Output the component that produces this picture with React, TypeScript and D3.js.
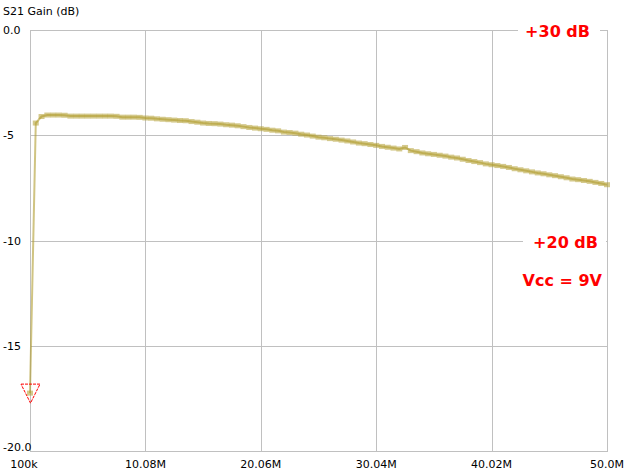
import React from "react";
import * as d3 from "d3";

// Sweep frequencies (MHz)
const freqs: number[] = [
  0.1, 0.599, 1.098, 1.597, 2.096, 2.595, 3.094, 3.593, 4.092, 4.591, 5.09, 5.589, 6.088, 6.587, 7.086, 7.585,
  8.084, 8.583, 9.082, 9.581, 10.08, 10.579, 11.078, 11.577, 12.076, 12.575, 13.074, 13.573, 14.072, 14.571,
  15.07, 15.569, 16.068, 16.567, 17.066, 17.565, 18.064, 18.563, 19.062, 19.561, 20.06, 20.559, 21.058, 21.557,
  22.056, 22.555, 23.054, 23.553, 24.052, 24.551, 25.05, 25.549, 26.048, 26.547, 27.046, 27.545, 28.044,
  28.543, 29.042, 29.541, 30.04, 30.539, 31.038, 31.537, 32.036, 32.535, 33.034, 33.533, 34.032, 34.531,
  35.03, 35.529, 36.028, 36.527, 37.026, 37.525, 38.024, 38.523, 39.022, 39.521, 40.02, 40.519, 41.018,
  41.517, 42.016, 42.515, 43.014, 43.513, 44.012, 44.511, 45.01, 45.509, 46.008, 46.507, 47.006, 47.505,
  48.004, 48.503, 49.002, 49.501, 50.0,
];

// S21 gain (dB)
const gains: number[] = [
  -17.25, -4.42, -4.11, -4.04, -4.04, -4.04, -4.05, -4.09, -4.09, -4.09, -4.09, -4.09, -4.09, -4.09, -4.09,
  -4.1, -4.14, -4.14, -4.14, -4.15, -4.18, -4.19, -4.22, -4.24, -4.26, -4.28, -4.3, -4.31, -4.35, -4.38,
  -4.42, -4.44, -4.45, -4.47, -4.5, -4.52, -4.55, -4.59, -4.63, -4.66, -4.69, -4.72, -4.76, -4.79, -4.85,
  -4.87, -4.9, -4.95, -4.99, -5.04, -5.09, -5.12, -5.16, -5.19, -5.23, -5.27, -5.32, -5.37, -5.4, -5.44,
  -5.48, -5.53, -5.57, -5.61, -5.65, -5.58, -5.73, -5.78, -5.84, -5.88, -5.91, -5.95, -5.99, -6.04, -6.08,
  -6.14, -6.2, -6.25, -6.3, -6.36, -6.4, -6.44, -6.48, -6.53, -6.59, -6.64, -6.69, -6.74, -6.79, -6.83,
  -6.88, -6.92, -6.97, -7.02, -7.08, -7.11, -7.15, -7.19, -7.24, -7.29, -7.35,
];

const xTicks: number[] = [0.1, 10.08, 20.06, 30.04, 40.02, 50.0];
const xTickLabels: string[] = ["100k", "10.08M", "20.06M", "30.04M", "40.02M", "50.0M"];
const yTicks: number[] = [0, -5, -10, -15, -20];
const yTickLabels: string[] = ["0.0", "-5", "-10", "-15", "-20.0"];

const markerIndex = 0;

export default function App() {
  const W = 627;
  const H = 472;
  const x = d3.scaleLinear().domain([0.1, 50]).range([30, 607]);
  const y = d3.scaleLinear().domain([-20, 0]).range([451, 30]);
  const crisp = (v: number) => Math.round(v) + 0.5;

  const data = freqs.map((f, i) => ({ f, g: gains[i] }));
  const line = d3
    .line<{ f: number; g: number }>()
    .x((d) => x(d.f))
    .y((d) => y(d.g))(data) as string;

  const traceColor = "#b09c2e";
  const gridColor = "#c0c0c0";
  const font = "'DejaVu Sans', Verdana, sans-serif";

  const mx = x(freqs[markerIndex]) + 0.5;
  const my = y(gains[markerIndex]);
  const tri = `M${mx - 9.5},${my - 9} L${mx + 9.5},${my - 9} L${mx},${my + 10} Z`;

  const redLabel = (text: string, xr: number, baseline: number, bgPadL: number, bgPadR: number, bg: boolean) => (
    <g key={text}>
      {bg && <rect x={xr - 66 - bgPadL} y={baseline - 14} width={66 + bgPadL + bgPadR} height={17} fill="#fff" />}
      <text x={xr} y={baseline} textAnchor="end" fill="#ff0000" fontFamily={font} fontWeight="bold" fontSize={16}>
        {text}
      </text>
    </g>
  );

  return (
    <svg width={W} height={H} style={{ position: "absolute", left: 0, top: 0, background: "#fff" }}>
      <rect x={0} y={0} width={W} height={H} fill="#fff" />
      {xTicks.map((t) => (
        <line
          key={"gx" + t}
          x1={crisp(x(t))}
          x2={crisp(x(t))}
          y1={y(0)}
          y2={y(-20)}
          stroke={gridColor}
          strokeWidth={1}
          shapeRendering="crispEdges"
        />
      ))}
      {yTicks.map((t) => (
        <line
          key={"gy" + t}
          x1={x(0.1)}
          x2={x(50) + 1}
          y1={crisp(y(t))}
          y2={crisp(y(t))}
          stroke={gridColor}
          strokeWidth={1}
          shapeRendering="crispEdges"
        />
      ))}

      {yTicks.map((t, i) => (
        <text
          key={"yl" + t}
          x={3}
          y={i === yTicks.length - 1 ? y(t) : y(t) + 4}
          fontFamily={font}
          fontSize={11}
          fill="#000"
        >
          {yTickLabels[i]}
        </text>
      ))}
      {xTicks.map((t, i) => (
        <text
          key={"xl" + t}
          x={i === 0 ? x(t) - 6 : x(t)}
          y={468}
          textAnchor="middle"
          fontFamily={font}
          fontSize={11}
          fill="#000"
        >
          {xTickLabels[i]}
        </text>
      ))}
      <text x={3} y={15} fontFamily={font} fontSize={11} fill="#000">
        S21 Gain (dB)
      </text>

      <path d={line} fill="none" stroke={traceColor} strokeOpacity={0.6} strokeWidth={2} />
      {data.map((d, i) => (
        <rect
          key={"m" + i}
          x={x(d.f) - 3}
          y={y(d.g) - 2.5}
          width={6}
          height={5}
          fill={traceColor}
          fillOpacity={0.55}
        />
      ))}

      <path d={tri} fill="none" stroke="#ff0000" strokeWidth={1} strokeDasharray="3 1" />

      {redLabel("+30 dB", 590, 36.5, 6, 10, true)}
      {redLabel("+20 dB", 598, 247.5, 9, 8, true)}
      {redLabel("Vcc = 9V", 602, 285.5, 0, 0, false)}
    </svg>
  );
}
